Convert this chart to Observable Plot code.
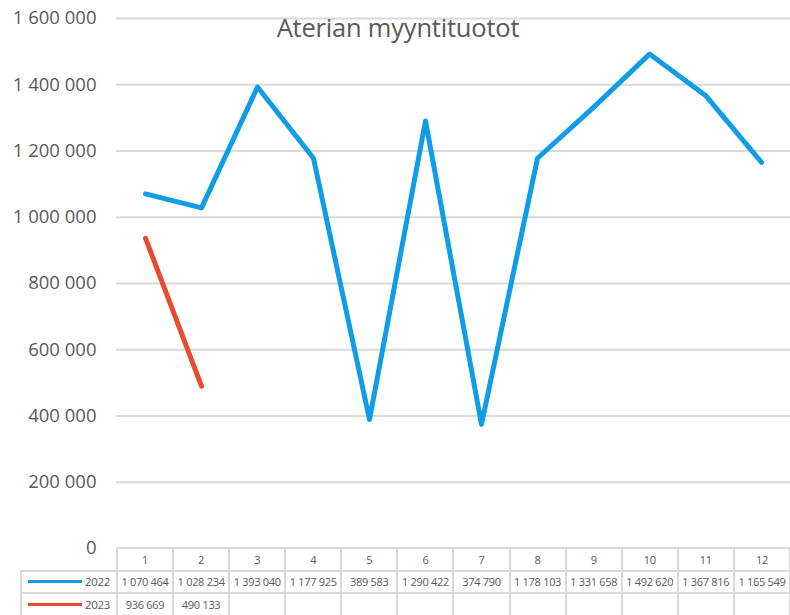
<!DOCTYPE html>
<html>
<head>
<meta charset="utf-8">
<script src="https://cdn.jsdelivr.net/npm/d3@7"></script>
<script src="https://cdn.jsdelivr.net/npm/@observablehq/plot@0.6"></script>
<style>
  body { margin: 0; background: #fff; font-family: "Open Sans", sans-serif; }
  #wrap { position: relative; width: 790px; height: 615px; overflow: hidden; }
  #title { position: absolute; left: 0; width: 796px; top: 10px; text-align: center; font-size: 25.5px; color: #595959; pointer-events: none; letter-spacing: -0.2px; }
  #tbl { position: absolute; left: 20px; top: 547px; border-collapse: collapse; table-layout: fixed; width: 771px; font-size: 11px; letter-spacing: -0.3px; color: #595959; }
  #tbl td { border: 2px solid #d9d9d9; height: 20.5px; padding: 0; text-align: center; white-space: nowrap; overflow: hidden; }
  #tbl td.empty { border: none; border-right: 2px solid #d9d9d9; }
  #tbl td.leg { text-align: right; padding-right: 6px; position: relative; font-size: 11.5px; }
  #tbl td.leg span.sw { position: absolute; left: 6px; top: 50%; width: 54px; height: 3px; margin-top: -1.5px; }
</style>
</head>
<body>
<div id="wrap">
  <div id="chart"></div>
  <div id="title"></div>
  <table id="tbl"></table>
</div>
<script>
const titleText = "Aterian myyntituotot";
const months = [1, 2, 3, 4, 5, 6, 7, 8, 9, 10, 11, 12];
const series = ["2022", "2023"];
const values2022 = [1070464, 1028234, 1393040, 1177925, 389583, 1290422, 374790, 1178103, 1331658, 1492620, 1367816, 1165549];
const values2023 = [936669, 490133];
const yTicks = [0, 200000, 400000, 600000, 800000, 1000000, 1200000, 1400000, 1600000];
const colors = ["#0f9de8", "#e84c30"];

const fmt = d3.formatLocale({decimal: ",", thousands: "\u00a0", grouping: [3], currency: ["", ""]}).format(",d");

const rows = [];
values2022.forEach((v, i) => rows.push({month: months[i], value: v, series: series[0]}));
values2023.forEach((v, i) => rows.push({month: months[i], value: v, series: series[1]}));

const plot = Plot.plot({
  width: 790,
  height: 560,
  marginTop: 18,
  marginBottom: 12,
  marginLeft: 116,
  marginRight: 0,
  style: {fontFamily: "Open Sans, sans-serif", background: "#fff", color: "#595959"},
  x: {type: "point", domain: months, padding: 0.5, axis: null},
  y: {domain: [0, 1600000], ticks: yTicks, tickFormat: d => fmt(d), label: null},
  color: {domain: series, range: colors},
  marks: [
    Plot.gridY(yTicks.filter(d => d > 0), {stroke: "#d9d9d9", strokeOpacity: 1, strokeWidth: 2}),
    Plot.axisY({ticks: yTicks, tickFormat: d => fmt(d), tickSize: 0, tickPadding: 20, fontSize: 18.5, label: null, fill: "#595959"}),
    Plot.line(rows, {x: "month", y: "value", z: "series", stroke: "series", strokeWidth: 5, strokeLinejoin: "round", strokeLinecap: "round"})
  ]
});
document.getElementById("chart").appendChild(plot);
document.getElementById("title").textContent = titleText;

// Data table below the chart
const tbl = document.getElementById("tbl");
let html = '<colgroup><col style="width:96px">' + months.map(() => '<col>').join('') + '</colgroup>';
html += '<tr><td class="empty"></td>' + months.map(m => `<td>${m}</td>`).join('') + '</tr>';
const all = [values2022, values2023];
series.forEach((s, si) => {
  html += `<tr><td class="leg"><span class="sw" style="background:${colors[si]}"></span>${s}</td>`;
  html += months.map((m, i) => `<td>${all[si][i] != null ? fmt(all[si][i]) : ''}</td>`).join('');
  html += '</tr>';
});
tbl.innerHTML = html;
</script>
</body>
</html>
